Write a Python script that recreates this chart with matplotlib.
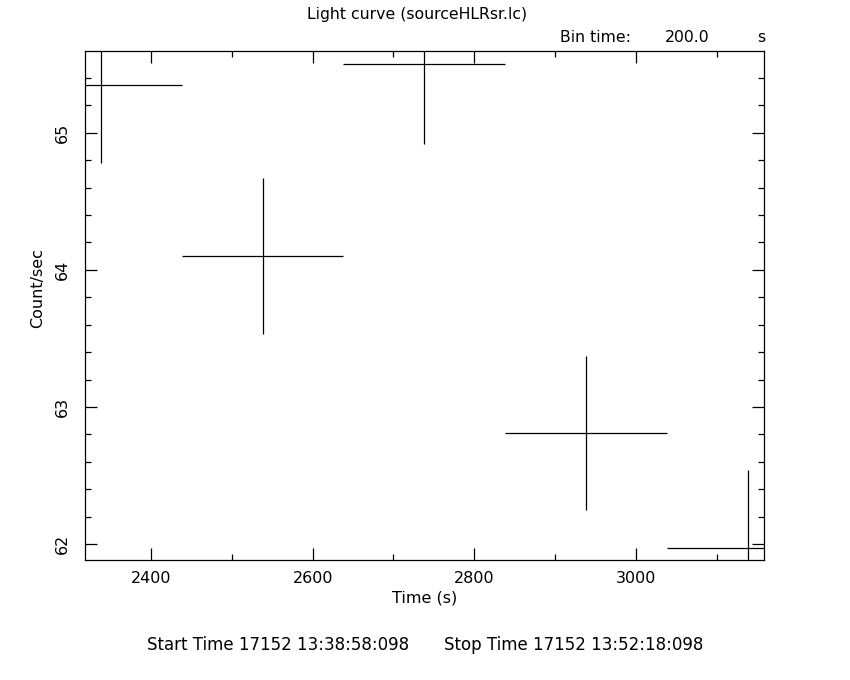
import numpy as np
import matplotlib.pyplot as plt
from matplotlib.ticker import MultipleLocator

# light curve bins
time = [2338, 2538, 2738, 2938, 3138]
time_half = [100, 100, 100, 100, 100]
rate = [65.35, 64.10, 65.50, 62.81, 61.97]
rate_err = [0.57, 0.57, 0.58, 0.56, 0.57]

fig = plt.figure(figsize=(8.5, 6.8), dpi=100)
ax = fig.add_axes([85 / 850, 1 - 560 / 680, 679 / 850, 509 / 680])

ax.errorbar(time, rate, xerr=time_half, yerr=rate_err, fmt='none',
            ecolor='black', elinewidth=0.9, capsize=0)

ax.set_xlim(2318.4, 3158.4)
ax.set_ylim(61.883, 65.597)

ax.xaxis.set_major_locator(MultipleLocator(200))
ax.xaxis.set_minor_locator(MultipleLocator(100))
ax.yaxis.set_major_locator(MultipleLocator(1))
ax.yaxis.set_minor_locator(MultipleLocator(0.2))
ax.tick_params(which='both', direction='in', top=True, right=True,
               width=0.9, labelsize=11.5, color='black')
ax.tick_params(which='major', length=8.5)
ax.tick_params(which='minor', length=4.5)
ax.tick_params(axis='x', pad=8)
ax.tick_params(axis='y', pad=11)
for lab in ax.get_yticklabels():
    lab.set_rotation(90)
    lab.set_va('center')
for s in ax.spines.values():
    s.set_linewidth(0.9)

ax.set_xlabel('Time (s)', fontsize=11.5)
ax.set_ylabel('Count/sec', fontsize=11.5)
ax.xaxis.set_label_coords((425 - 85) / 679, -(598 - 560) / 509)
ax.yaxis.set_label_coords(-(85 - 38) / 679, (560 - 288) / 509)
ax.xaxis.label.set_va('center')
ax.yaxis.label.set_va('center')

fig.text(417 / 850, 1 - 15 / 680, 'Light curve (sourceHLRsr.lc)',
         ha='center', va='center', fontsize=11.3)
fig.text(560 / 850, 1 - 38 / 680, 'Bin time:', ha='left', va='center', fontsize=11.3)
fig.text(710 / 850, 1 - 38 / 680, '200.0', ha='right', va='center', fontsize=11.3)
fig.text(765 / 850, 1 - 38 / 680, 's', ha='right', va='center', fontsize=11.3)
fig.text(147 / 850, 1 - 645 / 680, 'Start Time 17152 13:38:58:098',
         ha='left', va='center', fontsize=12)
fig.text(703 / 850, 1 - 645 / 680, 'Stop Time 17152 13:52:18:098',
         ha='right', va='center', fontsize=12)

fig.savefig('out.png', dpi=100)
